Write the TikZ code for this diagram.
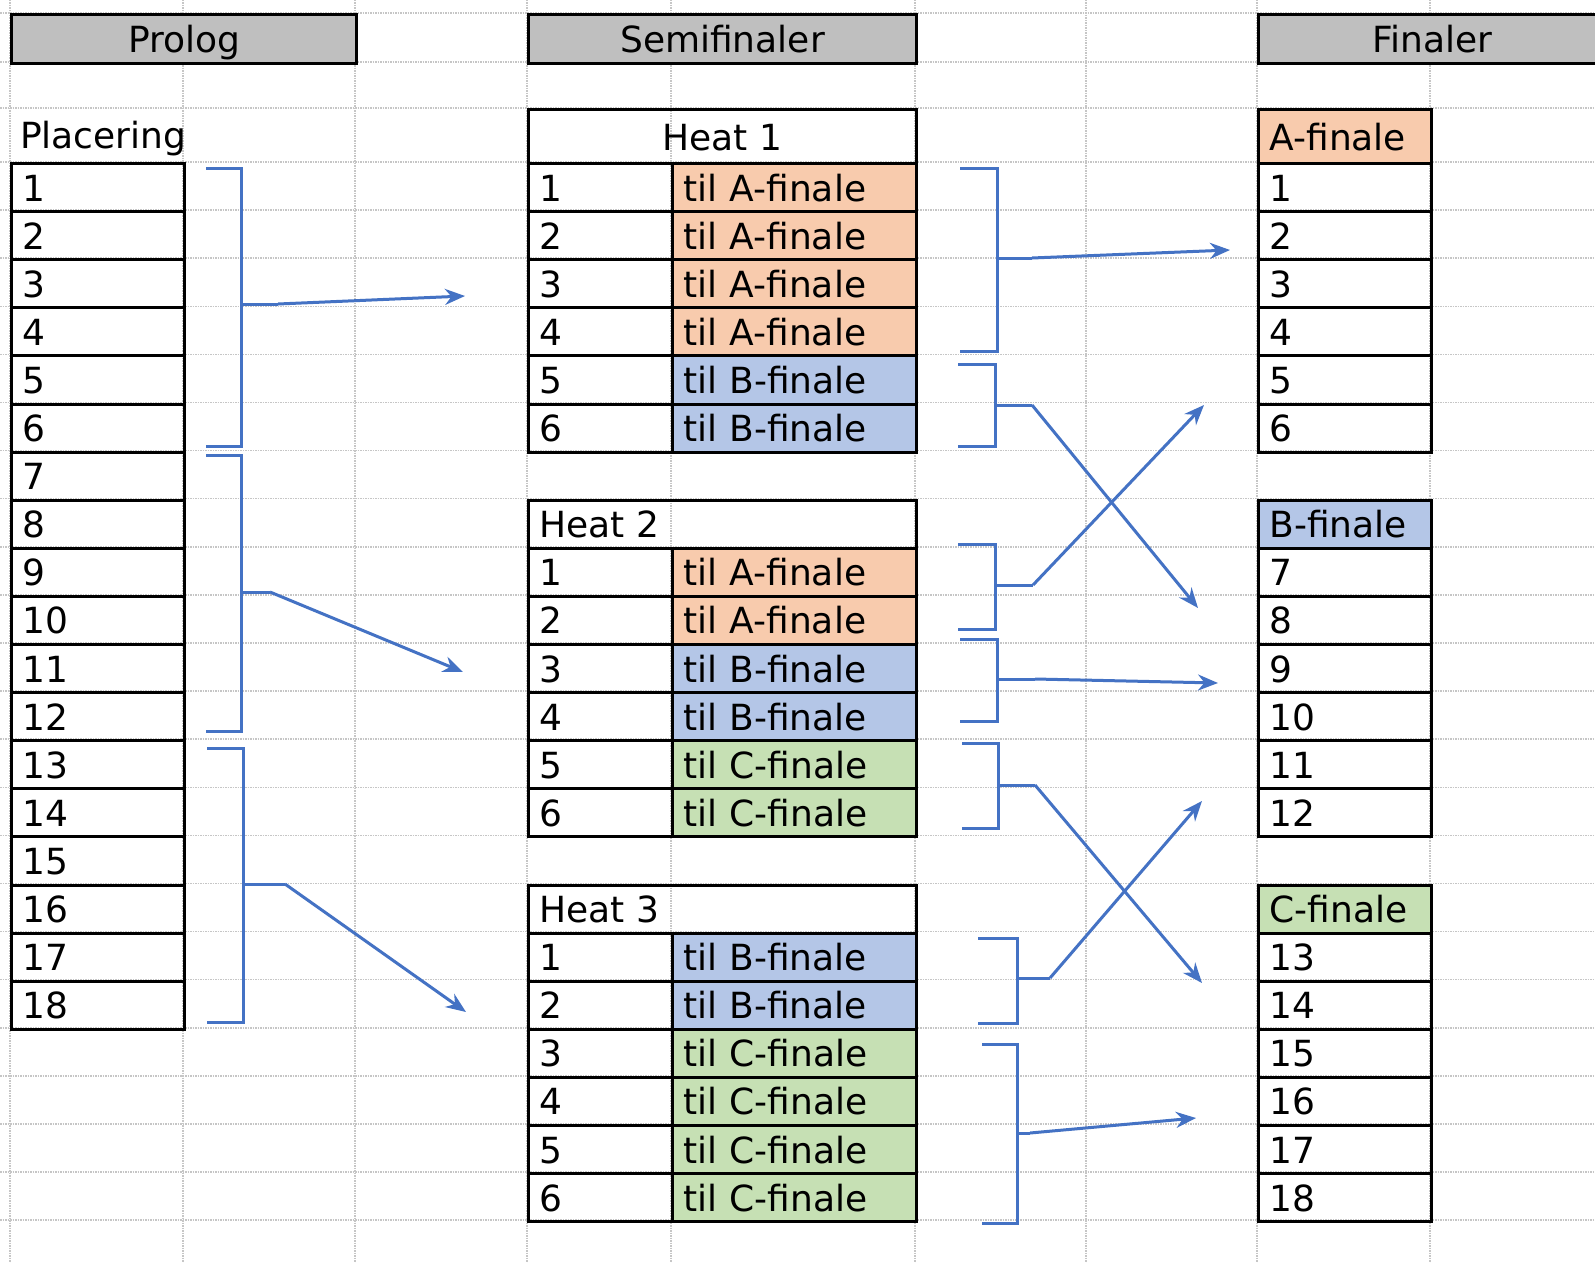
\documentclass[tikz,border=0pt]{standalone}
\usepackage{fontspec}
\setmainfont{DejaVu Sans}
\usepackage{tikz}
\usetikzlibrary{arrows.meta}

\definecolor{finA}{RGB}{248,203,173}
\definecolor{finB}{RGB}{180,198,231}
\definecolor{finC}{RGB}{198,224,180}
\definecolor{pen}{RGB}{68,114,196}

\begin{document}
\begin{tikzpicture}[x=1pt, y=-1pt,
    every node/.style={font=\fontsize{36}{40}\selectfont},
    grid/.style={gray!45, densely dotted, line width=1.5pt},
    cell/.style={rectangle, draw=black, line width=3pt, anchor=north west, minimum height=48.1pt,
      inner xsep=11pt, inner ysep=0pt, text height=27pt, text depth=0pt, align=left},
    title/.style={cell, fill=black!25, minimum height=49pt, align=center},
    brace/.style={draw=pen, line width=3pt},
    pil/.style={pen, line width=3pt, -{Stealth[length=20pt,width=16pt]}}]

    \useasboundingbox (0,0) rectangle (1595,1263);
    \fill[white] (0,0) rectangle (1595,1263);
    \clip (0,0) rectangle (1595,1263);

    % Define sheet grid
    \foreach \x in {10,183,355,527,671,915,1086,1257,1430}
      \draw[grid] (\x,0) -- (\x,1263);
    \foreach \y in {13,62,108}
      \draw[grid] (0,\y) -- (1595,\y);
    \foreach \r in {0,...,22}
      \draw[grid] (0,{162+\r*48.1}) -- (1595,{162+\r*48.1});

    % Define title nodes
    \node[title, text width=323pt] (prolog) at (10,13) {Prolog};
    \node[title, text width=366pt] (semi) at (527,13) {Semifinaler};
    \node[title, text width=326pt] (finaler) at (1257,13) {Finaler};

    % Define prolog nodes
    \node[anchor=north west, inner xsep=10pt, inner ysep=0pt, minimum height=54pt,
      text height=27pt, text depth=0pt] (plac) at (10,108) {Placering};
    \foreach \r in {1,...,18}
      \node[cell, text width=151pt] (pl\r) at (10,{162+(\r-1)*48.1}) {\r};

    % Define heat nodes
    \node[cell, text width=366pt, align=center, minimum height=54pt] (heat1) at (527,108) {Heat 1};
    \foreach \r/\f in {1/A,2/A,3/A,4/A,5/B,6/B} {
      \node[cell, text width=122pt] (h1n\r) at (527,{162+(\r-1)*48.1}) {\r};
      \node[cell, text width=222pt, fill=fin\f] (h1t\r) at (671,{162+(\r-1)*48.1}) {til \f-finale};
    }
    \node[cell, text width=366pt] (heat2) at (527,{162+7*48.1}) {Heat 2};
    \foreach \r/\f in {1/A,2/A,3/B,4/B,5/C,6/C} {
      \node[cell, text width=122pt] (h2n\r) at (527,{162+(\r+7)*48.1}) {\r};
      \node[cell, text width=222pt, fill=fin\f] (h2t\r) at (671,{162+(\r+7)*48.1}) {til \f-finale};
    }
    \node[cell, text width=366pt] (heat3) at (527,{162+15*48.1}) {Heat 3};
    \foreach \r/\f in {1/B,2/B,3/C,4/C,5/C,6/C} {
      \node[cell, text width=122pt] (h3n\r) at (527,{162+(\r+15)*48.1}) {\r};
      \node[cell, text width=222pt, fill=fin\f] (h3t\r) at (671,{162+(\r+15)*48.1}) {til \f-finale};
    }

    % Define final nodes
    \node[cell, text width=151pt, fill=finA, minimum height=54pt] (afin) at (1257,108) {A-finale};
    \foreach \r in {1,...,6}
      \node[cell, text width=151pt] (fa\r) at (1257,{162+(\r-1)*48.1}) {\r};
    \node[cell, text width=151pt, fill=finB] (bfin) at (1257,{162+7*48.1}) {B-finale};
    \foreach \r in {7,...,12}
      \node[cell, text width=151pt] (fb\r) at (1257,{162+(\r+1)*48.1}) {\r};
    \node[cell, text width=151pt, fill=finC] (cfin) at (1257,{162+15*48.1}) {C-finale};
    \foreach \r in {13,...,18}
      \node[cell, text width=151pt] (fc\r) at (1257,{162+(\r+3)*48.1}) {\r};

    % Brackets round the placings
    \draw[brace] (206,168) -- (241,168) -- (241,446) -- (206,446) (241,304) -- (278,304) coordinate (p1);
    \draw[brace] (206,455) -- (241,455) -- (241,731) -- (206,731) (241,592) -- (270,592) coordinate (p2);
    \draw[brace] (207,748) -- (243,748) -- (243,1022) -- (207,1022) (243,884) -- (285,884) coordinate (p3);
    \draw[brace] (960,168) -- (997,168) -- (997,351) -- (960,351) (997,258) -- (1032,258) coordinate (s1);
    \draw[brace] (958,364) -- (995,364) -- (995,446) -- (958,446) (995,405) -- (1032,405) coordinate (s2);
    \draw[brace] (958,544) -- (995,544) -- (995,629) -- (958,629) (995,585) -- (1033,585) coordinate (s3);
    \draw[brace] (960,639) -- (997,639) -- (997,721) -- (960,721) (997,679) -- (1035,679) coordinate (s4);
    \draw[brace] (962,743) -- (998,743) -- (998,828) -- (962,828) (998,785) -- (1035,785) coordinate (s5);
    \draw[brace] (978,938) -- (1017,938) -- (1017,1023) -- (978,1023) (1017,978) -- (1050,978) coordinate (s6);
    \draw[brace] (982,1044) -- (1017,1044) -- (1017,1223) -- (982,1223) (1017,1133) -- (1030,1133) coordinate (s7);

    % Arrow ends
    \coordinate (toH1) at (465,296);
    \coordinate (toH2) at (463,672);
    \coordinate (toH3) at (466,1012);
    \coordinate (toA) at (1230,250);
    \coordinate (toB1) at (1198,608);
    \coordinate (toA2) at (1204,405);
    \coordinate (toB2) at (1218,683);
    \coordinate (toC1) at (1202,983);
    \coordinate (toB3) at (1202,801);
    \coordinate (toC2) at (1196,1118);

    % Arrows to the next round
    \draw[pil] (p1) -- (toH1);
    \draw[pil] (p2) -- (toH2);
    \draw[pil] (p3) -- (toH3);
    \draw[pil] (s1) -- (toA);
    \draw[pil] (s2) -- (toB1);
    \draw[pil] (s3) -- (toA2);
    \draw[pil] (s4) -- (toB2);
    \draw[pil] (s5) -- (toC1);
    \draw[pil] (s6) -- (toB3);
    \draw[pil] (s7) -- (toC2);
\end{tikzpicture}
\end{document}
